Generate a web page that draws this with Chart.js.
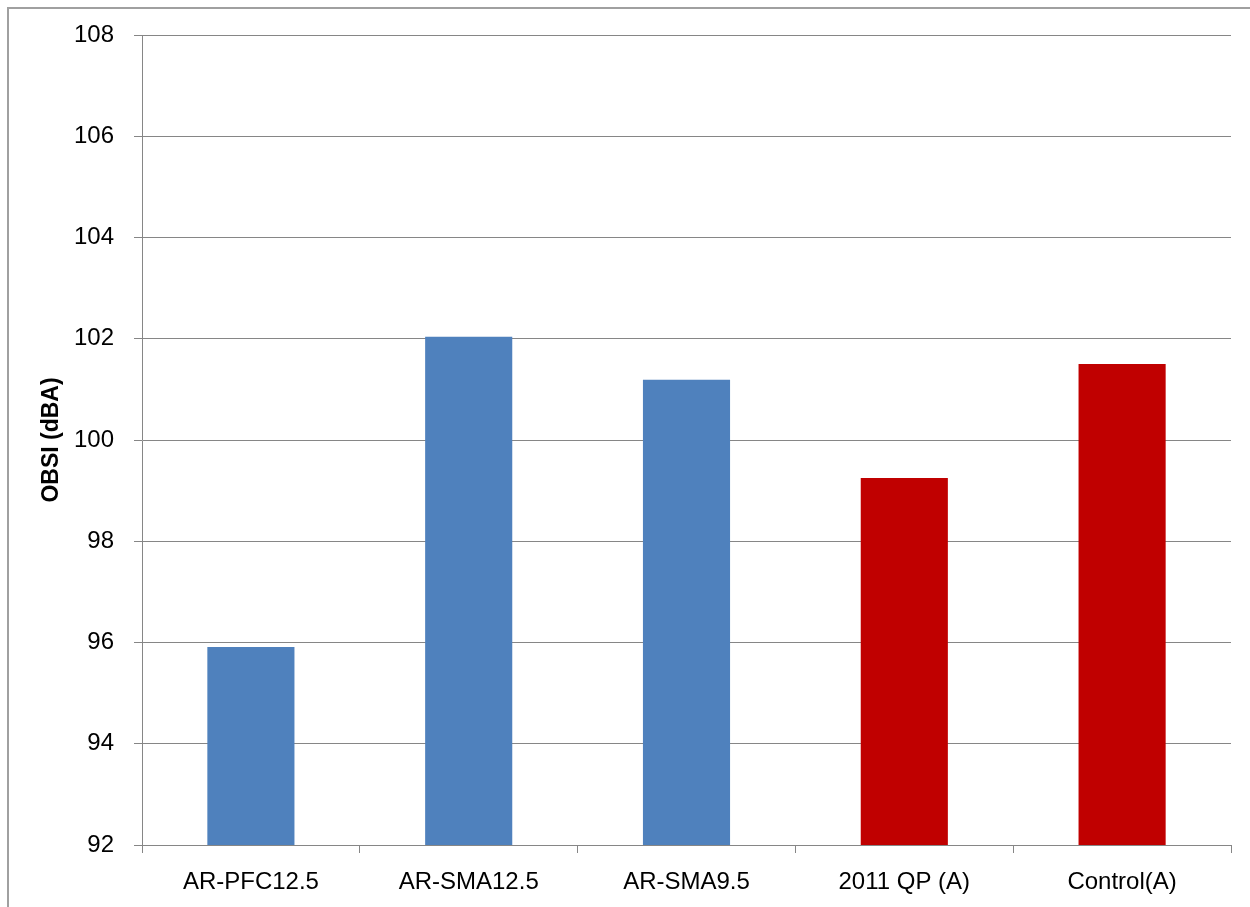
<!DOCTYPE html>
<html>
<head>
<meta charset="utf-8">
<script src="https://cdn.jsdelivr.net/npm/chart.js@4"></script>
<style>
    html, body { margin: 0; padding: 0; background: #fff; }
    #wrap { position: relative; width: 1250px; height: 907px; overflow: hidden; }
    #frame { position: absolute; left: 7px; top: 7px; width: 1300px; height: 1000px; border: 2px solid #a0a0a0; box-sizing: border-box; }
    #obsiChart { position: absolute; left: 0; top: 0; }
</style>
</head>
<body>
<div id="wrap">
    <div id="frame"></div>
    <canvas id="obsiChart" width="1250" height="907"></canvas>
</div>
<script>
// OBSI values per mix
const mixes = ['AR-PFC12.5', 'AR-SMA12.5', 'AR-SMA9.5', '2011 QP (A)', 'Control(A)'];
const obsiValues = [95.91, 102.04, 101.19, 99.25, 101.5];
const barColors = ['#4F81BD', '#4F81BD', '#4F81BD', '#C00000', '#C00000'];
const yMin = 92;
const yMax = 108;
const yStep = 2;

const fontFamily = '"Liberation Sans", Arial, sans-serif';

document.addEventListener('DOMContentLoaded', () => {
    const ctx = document.getElementById('obsiChart').getContext('2d');
    new Chart(ctx, {
        type: 'bar',
        data: {
            labels: mixes,
            datasets: [{
                label: 'OBSI (dBA)',
                data: obsiValues,
                backgroundColor: barColors,
                borderWidth: 0,
                categoryPercentage: 1.0,
                barPercentage: 0.4
            }]
        },
        options: {
            responsive: false,
            animation: false,
            layout: {
                padding: { left: 38, top: 35, right: 19, bottom: 0 }
            },
            plugins: {
                legend: { display: false },
                tooltip: { enabled: false }
            },
            scales: {
                x: {
                    afterFit: (scale) => { scale.height = 62; },
                    grid: {
                        display: true,
                        drawOnChartArea: false,
                        drawTicks: true,
                        tickLength: 8,
                        color: '#868686',
                        lineWidth: 1
                    },
                    border: { display: true, color: '#868686', width: 1 },
                    ticks: {
                        color: '#000',
                        padding: 15,
                        font: { family: fontFamily, size: 24 }
                    }
                },
                y: {
                    min: yMin,
                    max: yMax,
                    afterFit: (scale) => { scale.width = 104; },
                    grid: {
                        color: '#868686',
                        lineWidth: 1,
                        tickLength: 8
                    },
                    border: { display: true, color: '#868686', width: 1 },
                    ticks: {
                        stepSize: yStep,
                        color: '#000',
                        padding: 20,
                        font: { family: fontFamily, size: 24 }
                    },
                    title: {
                        display: true,
                        text: 'OBSI (dBA)',
                        color: '#000',
                        padding: { top: 0, bottom: 0 },
                        font: { family: fontFamily, size: 23, weight: 'bold' }
                    }
                }
            }
        }
    });
});
</script>
</body>
</html>
